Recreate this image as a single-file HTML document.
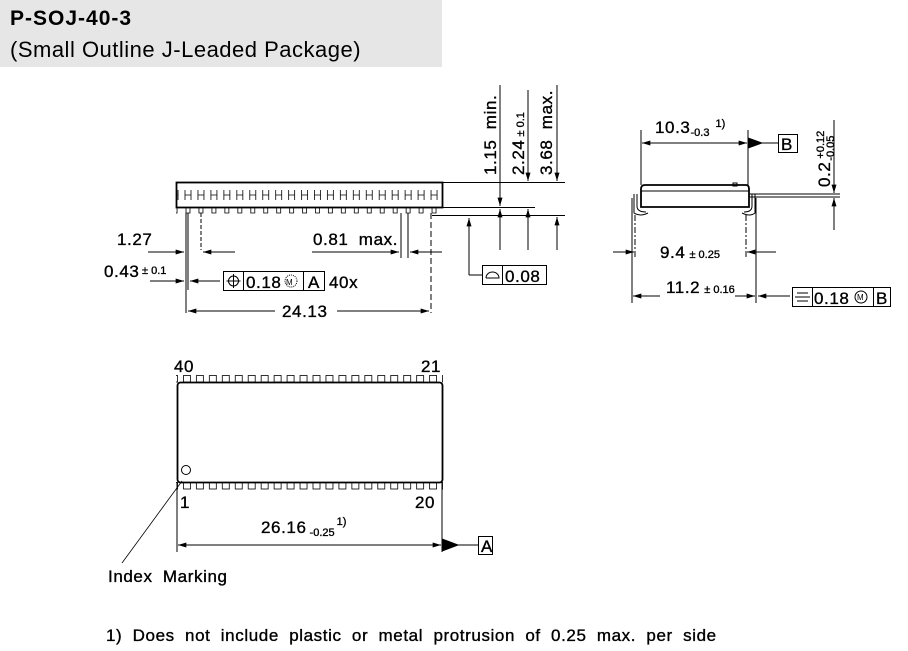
<!DOCTYPE html>
<html><head><meta charset="utf-8"><style>
html,body{margin:0;padding:0;background:#fff;}
svg{display:block;font-family:"Liberation Sans",Arial,sans-serif;}
.t text{stroke:#000;stroke-width:0.35;letter-spacing:0.6px;word-spacing:5px;}
.t tspan{word-spacing:0;letter-spacing:0;}
</style></head><body>
<svg width="908" height="651" viewBox="0 0 908 651" xmlns="http://www.w3.org/2000/svg">
<defs>
<marker id="ar" viewBox="0 0 10 6" refX="10" refY="3" markerWidth="16" markerHeight="5" markerUnits="userSpaceOnUse" orient="auto-start-reverse"><path d="M0,0 L10,3 L0,6 z" fill="#000"/></marker>
<pattern id="tp" x="183" y="0" width="12.95" height="700" patternUnits="userSpaceOnUse"><rect x="0.5" y="375.5" width="7" height="6.5" fill="#fff" stroke="#000" stroke-width="0.8"/><rect x="0.5" y="482.5" width="7" height="6.5" fill="#fff" stroke="#000" stroke-width="0.8"/></pattern>
<pattern id="sp" x="183" y="0" width="12.95" height="700" patternUnits="userSpaceOnUse"><path d="M2,190 V200 M8,190 V200 M2,195 H8 M3,207 V213 H7 V207" fill="none" stroke="#000" stroke-width="0.8"/></pattern>
</defs>
<rect x="0" y="0" width="442" height="67" fill="#e6e6e6"/>
<text x="10" y="25" font-size="21" font-weight="bold" letter-spacing="1">P-SOJ-40-3</text>
<text x="10" y="57" font-size="22" letter-spacing="0.5">(Small Outline J-Leaded Package)</text>

<g stroke="#000" fill="none" stroke-width="1">
<rect x="176.5" y="182.5" width="266" height="25" stroke-width="1.8"/>
<rect x="176" y="188" width="267" height="30" fill="url(#sp)" stroke="none"/>
<line x1="443" y1="182.5" x2="565" y2="182.5"/>
<line x1="443" y1="207.5" x2="535" y2="207.5"/>
<line x1="432" y1="215.5" x2="565" y2="215.5"/>
<line x1="186" y1="213" x2="186" y2="313"/>
<line x1="188" y1="213" x2="188" y2="290"/>
<line x1="201" y1="213" x2="201" y2="250" stroke-dasharray="4,2"/>
<line x1="401" y1="213" x2="401" y2="258"/>
<line x1="408" y1="213" x2="408" y2="258"/>
<line x1="431" y1="213" x2="431" y2="313" stroke-dasharray="6,3"/>
<line x1="148" y1="252" x2="184" y2="252" marker-end="url(#ar)"/>
<line x1="235" y1="252" x2="203" y2="252" marker-end="url(#ar)"/>
<line x1="312" y1="252" x2="399" y2="252" marker-end="url(#ar)"/>
<line x1="442" y1="252" x2="410" y2="252" marker-end="url(#ar)"/>
<line x1="150" y1="281" x2="184" y2="281" marker-end="url(#ar)"/>
<line x1="220" y1="281" x2="190" y2="281" marker-end="url(#ar)"/>
<line x1="275" y1="311" x2="188" y2="311" marker-end="url(#ar)"/>
<line x1="337" y1="311" x2="429" y2="311" marker-end="url(#ar)"/>
<line x1="500" y1="85" x2="500" y2="206" marker-end="url(#ar)"/>
<line x1="528" y1="90" x2="528" y2="181" marker-end="url(#ar)"/>
<line x1="557" y1="85" x2="557" y2="181" marker-end="url(#ar)"/>
<line x1="469" y1="275" x2="469" y2="218" marker-end="url(#ar)"/>
<line x1="469" y1="275" x2="482" y2="275"/>
<line x1="500" y1="250" x2="500" y2="209" marker-end="url(#ar)"/>
<line x1="528" y1="250" x2="528" y2="209" marker-end="url(#ar)"/>
<line x1="557" y1="250" x2="557" y2="217" marker-end="url(#ar)"/>
<rect x="223.5" y="271.5" width="101" height="19"/>
<line x1="243.5" y1="271.5" x2="243.5" y2="290.5"/><line x1="303.5" y1="271.5" x2="303.5" y2="290.5"/>
<circle cx="233.5" cy="281" r="5"/><line x1="233.5" y1="274" x2="233.5" y2="288"/><line x1="226.5" y1="281" x2="240.5" y2="281"/>
<circle cx="291" cy="281" r="6" stroke-dasharray="1,1"/>
<rect x="482.5" y="265.5" width="64" height="19"/>
<line x1="502.5" y1="265.5" x2="502.5" y2="284.5"/>
<path d="M486,278 H499 A6.5,6 0 0 0 486,278" />

<path d="M645,185 H746 Q749,185 749,189 V207 H641 V189 Q641,185 645,185 Z" stroke-width="1.8"/>
<line x1="641" y1="191" x2="749" y2="191"/>
<rect x="733" y="183" width="4" height="3"/>
<line x1="749" y1="194" x2="840" y2="194"/>
<line x1="749" y1="197" x2="840" y2="197"/>
<path d="M637,194 V206 Q637,212 646,212 M634,194 V213 Q640,217 648,213"/>
<path d="M752,194 V206 Q752,212 744,212 M755,194 V213 Q750,217 742,213"/>
<line x1="641" y1="130" x2="641" y2="185"/>
<line x1="748" y1="130" x2="748" y2="185"/>
<line x1="690" y1="143" x2="642" y2="143" marker-end="url(#ar)"/>
<line x1="690" y1="143" x2="747" y2="143" marker-end="url(#ar)"/>
<path d="M748,138 L762,143 L748,148 Z" fill="#000"/>
<line x1="762" y1="143" x2="778" y2="143"/>
<rect x="778.5" y="134.5" width="19" height="18"/>
<line x1="834" y1="120" x2="834" y2="193" marker-end="url(#ar)"/>
<line x1="834" y1="230" x2="834" y2="198" marker-end="url(#ar)"/>
<line x1="635" y1="215" x2="635" y2="258" stroke-dasharray="6,2,2,2"/>
<line x1="746" y1="215" x2="746" y2="258" stroke-dasharray="6,2,2,2"/>
<line x1="632" y1="198" x2="632" y2="303"/>
<line x1="756" y1="198" x2="756" y2="303"/>
<line x1="613" y1="252" x2="634" y2="252" marker-end="url(#ar)"/>
<line x1="776" y1="252" x2="747" y2="252" marker-end="url(#ar)"/>
<line x1="660" y1="296" x2="633" y2="296" marker-end="url(#ar)"/>
<line x1="735" y1="296" x2="755" y2="296" marker-end="url(#ar)"/>
<line x1="790" y1="296" x2="758" y2="296" marker-end="url(#ar)"/>
<rect x="792.5" y="287.5" width="98" height="19"/>
<line x1="812.5" y1="287.5" x2="812.5" y2="306.5"/><line x1="873.5" y1="287.5" x2="873.5" y2="306.5"/>
<line x1="797" y1="293" x2="808" y2="293"/><line x1="795" y1="297" x2="810" y2="297"/><line x1="797" y1="301" x2="808" y2="301"/>
<circle cx="861" cy="297" r="6"/>

<rect x="176" y="374" width="267" height="117" fill="url(#tp)" stroke="none"/>
<rect x="177.5" y="382.5" width="265" height="100" rx="3" fill="#fff" stroke-width="1.8"/>
<circle cx="186" cy="470" r="4.5"/>
<line x1="182" y1="481" x2="122" y2="563" stroke-width="0.8"/>
<line x1="177" y1="482" x2="177" y2="552"/>
<line x1="442" y1="482" x2="442" y2="552"/>
<line x1="300" y1="545" x2="178" y2="545" marker-end="url(#ar)"/>
<line x1="300" y1="545" x2="441" y2="545" marker-end="url(#ar)"/>
<path d="M442,539 L458,545 L442,551 Z" fill="#000"/>
<line x1="458" y1="545" x2="478" y2="545"/>
<rect x="478.5" y="536.5" width="14" height="18"/>
</g>

<g class="t" font-size="17" fill="#000">
<text x="117" y="245">1.27</text>
<text x="313" y="245">0.81 max.</text>
<text x="104" y="277">0.43</text><text x="142" y="274" font-size="11" style="word-spacing:0;letter-spacing:0">± 0.1</text>
<text x="282" y="317">24.13</text>
<text x="246" y="288">0.18</text><text x="286" y="285" font-size="8" style="stroke-width:0">M</text>
<text x="308" y="288">A</text><text x="329" y="288">40x</text>
<text x="505" y="282">0.08</text>
<text transform="translate(496,175) rotate(-90)">1.15 min.</text>
<text transform="translate(524,175) rotate(-90)">2.24<tspan font-size="11" dx="3">± 0.1</tspan></text>
<text transform="translate(552,175) rotate(-90)">3.68 max.</text>
<text x="655" y="133">10.3<tspan font-size="11" dy="3">-0.3</tspan><tspan font-size="11" dy="-9" dx="6">1)</tspan></text>
<text x="781" y="150">B</text>
<text transform="translate(830,187) rotate(-90)">0.2<tspan font-size="11" dy="-6" dx="3">+0.12</tspan><tspan font-size="11" dy="10" dx="-30">-0.05</tspan></text>
<text x="660" y="258">9.4<tspan font-size="11" dx="4">± 0.25</tspan></text>
<text x="666" y="293">11.2<tspan font-size="11" dx="4">± 0.16</tspan></text>
<text x="814" y="304">0.18</text><text x="857" y="300" font-size="8" style="stroke-width:0">M</text>
<text x="876" y="304">B</text>
<text x="174" y="372">40</text>
<text x="421" y="372">21</text>
<text x="180" y="508">1</text>
<text x="415" y="508">20</text>
<text x="261" y="533">26.16<tspan font-size="11" dy="3" dx="3">-0.25</tspan><tspan font-size="11" dy="-11" dx="2">1)</tspan></text>
<text x="481" y="552">A</text>
<text x="108" y="582">Index Marking</text>
<text x="106" y="641">1) Does not include plastic or metal protrusion of 0.25 max. per side</text>
</g>
</svg>
</body></html>
